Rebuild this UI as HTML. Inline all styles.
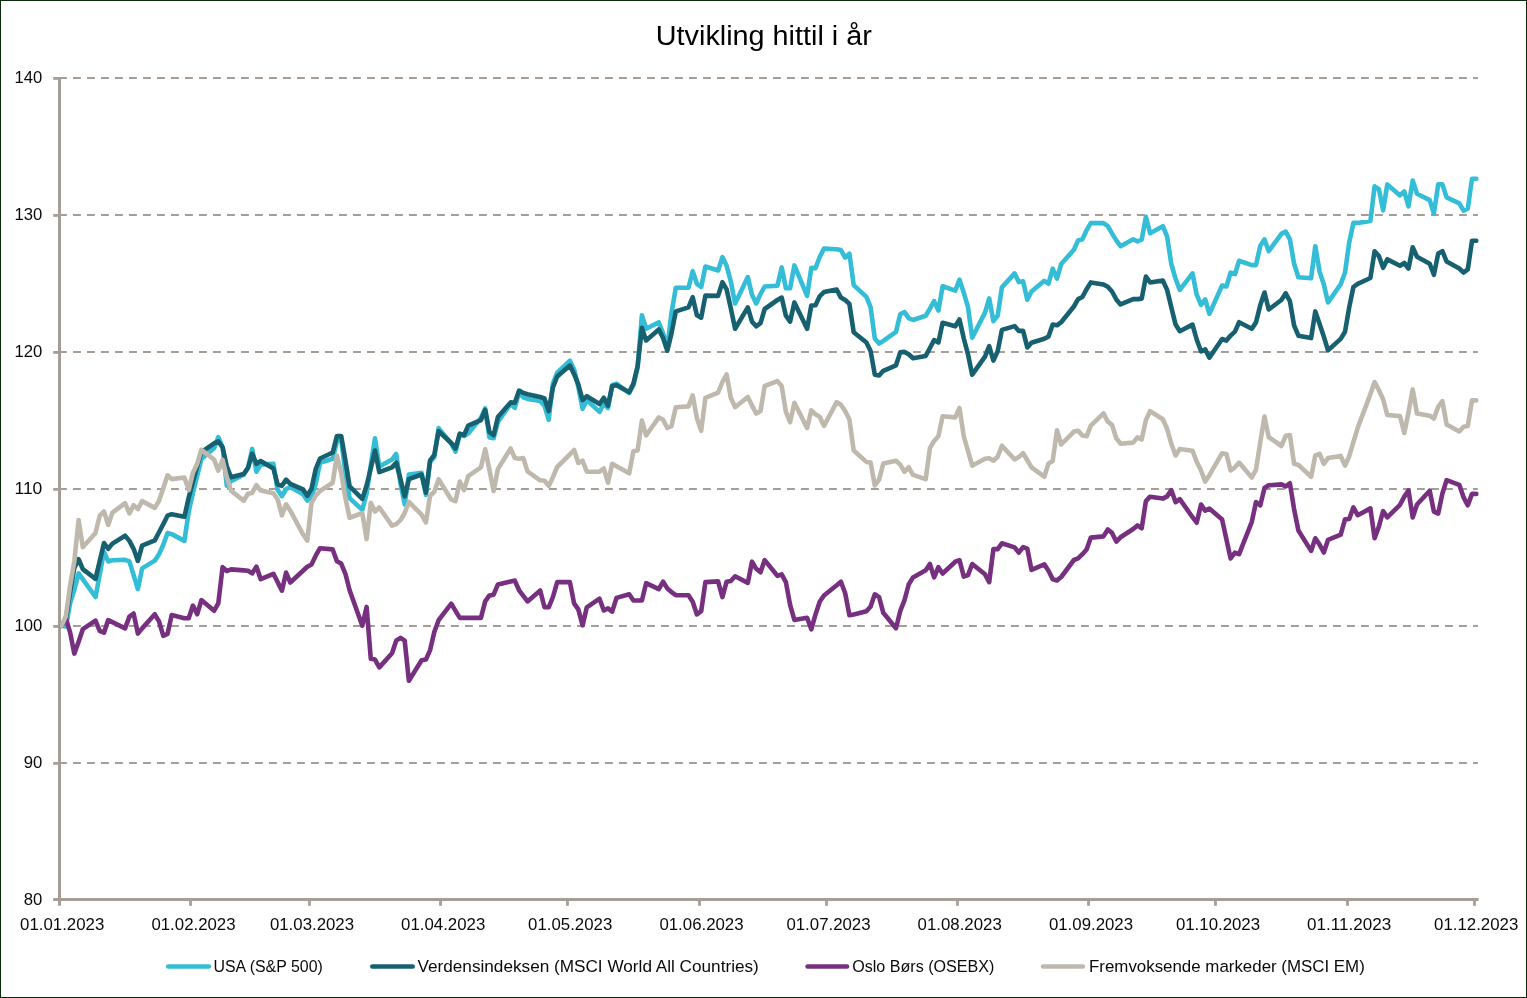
<!DOCTYPE html>
<html lang="no"><head><meta charset="utf-8"><title>Utvikling hittil i år</title>
<style>
html,body{margin:0;padding:0;background:#fff;}
body{width:1527px;height:998px;overflow:hidden;}
svg{display:block;font-family:"Liberation Sans",sans-serif;}
.lbl{font-size:16.8px;fill:#0a0a0a;}
.ttl{font-size:26.8px;fill:#000;}
.ser{fill:none;stroke-width:4.6;stroke-linejoin:round;stroke-linecap:round;}
</style></head><body>
<svg width="1527" height="998" viewBox="0 0 1527 998">
<rect x="0" y="0" width="1527" height="998" fill="#fff"/>
<rect x="0.5" y="0.5" width="1526" height="997" fill="none" stroke="#0B2A0B" stroke-width="1"/>
<text class="ttl" x="763.8" y="44.8" text-anchor="middle" textLength="216" lengthAdjust="spacingAndGlyphs">Utvikling hittil i år</text>

<g stroke="#A69E96" stroke-width="2" fill="none">
<line x1="59" y1="78.0" x2="1477.9" y2="78.0" stroke-dasharray="7.85 6.15"/>
<line x1="59" y1="215.0" x2="1477.9" y2="215.0" stroke-dasharray="7.85 6.15"/>
<line x1="59" y1="352.0" x2="1477.9" y2="352.0" stroke-dasharray="7.85 6.15"/>
<line x1="59" y1="489.0" x2="1477.9" y2="489.0" stroke-dasharray="7.85 6.15"/>
<line x1="59" y1="626.0" x2="1477.9" y2="626.0" stroke-dasharray="7.85 6.15"/>
<line x1="59" y1="763.0" x2="1477.9" y2="763.0" stroke-dasharray="7.85 6.15"/>
</g>
<g stroke="#A69E96" stroke-width="3" fill="none">
<line x1="59.5" y1="77.0" x2="59.5" y2="905.8"/>
<line x1="53.2" y1="899.5" x2="1478.6" y2="899.5"/>
</g>
<g stroke="#A69E96" stroke-width="2.8" fill="none">
<line x1="53.2" y1="78.4" x2="59.5" y2="78.4"/>
<line x1="53.2" y1="215.4" x2="59.5" y2="215.4"/>
<line x1="53.2" y1="352.4" x2="59.5" y2="352.4"/>
<line x1="53.2" y1="489.4" x2="59.5" y2="489.4"/>
<line x1="53.2" y1="626.4" x2="59.5" y2="626.4"/>
<line x1="53.2" y1="763.4" x2="59.5" y2="763.4"/>
<line x1="190.5" y1="899.5" x2="190.5" y2="905.8"/>
<line x1="309.5" y1="899.5" x2="309.5" y2="905.8"/>
<line x1="440.5" y1="899.5" x2="440.5" y2="905.8"/>
<line x1="567.5" y1="899.5" x2="567.5" y2="905.8"/>
<line x1="699.5" y1="899.5" x2="699.5" y2="905.8"/>
<line x1="826.5" y1="899.5" x2="826.5" y2="905.8"/>
<line x1="957.5" y1="899.5" x2="957.5" y2="905.8"/>
<line x1="1088.5" y1="899.5" x2="1088.5" y2="905.8"/>
<line x1="1215.5" y1="899.5" x2="1215.5" y2="905.8"/>
<line x1="1347.5" y1="899.5" x2="1347.5" y2="905.8"/>
<line x1="1474.5" y1="899.5" x2="1474.5" y2="905.8"/>
</g>
<text class="lbl" x="42.3" y="83.0" text-anchor="end" textLength="27.8" lengthAdjust="spacingAndGlyphs">140</text>
<text class="lbl" x="42.3" y="220.0" text-anchor="end" textLength="27.8" lengthAdjust="spacingAndGlyphs">130</text>
<text class="lbl" x="42.3" y="357.0" text-anchor="end" textLength="27.8" lengthAdjust="spacingAndGlyphs">120</text>
<text class="lbl" x="42.3" y="494.0" text-anchor="end" textLength="27.8" lengthAdjust="spacingAndGlyphs">110</text>
<text class="lbl" x="42.3" y="631.0" text-anchor="end" textLength="27.8" lengthAdjust="spacingAndGlyphs">100</text>
<text class="lbl" x="42.3" y="768.0" text-anchor="end" textLength="18.6" lengthAdjust="spacingAndGlyphs">90</text>
<text class="lbl" x="42.3" y="904.6" text-anchor="end" textLength="18.6" lengthAdjust="spacingAndGlyphs">80</text>
<text class="lbl" x="62.2" y="929.8" text-anchor="middle" textLength="84.2" lengthAdjust="spacingAndGlyphs">01.01.2023</text>
<text class="lbl" x="193.5" y="929.8" text-anchor="middle" textLength="84.2" lengthAdjust="spacingAndGlyphs">01.02.2023</text>
<text class="lbl" x="312.0" y="929.8" text-anchor="middle" textLength="84.2" lengthAdjust="spacingAndGlyphs">01.03.2023</text>
<text class="lbl" x="443.2" y="929.8" text-anchor="middle" textLength="84.2" lengthAdjust="spacingAndGlyphs">01.04.2023</text>
<text class="lbl" x="570.2" y="929.8" text-anchor="middle" textLength="84.2" lengthAdjust="spacingAndGlyphs">01.05.2023</text>
<text class="lbl" x="701.5" y="929.8" text-anchor="middle" textLength="84.2" lengthAdjust="spacingAndGlyphs">01.06.2023</text>
<text class="lbl" x="828.5" y="929.8" text-anchor="middle" textLength="84.2" lengthAdjust="spacingAndGlyphs">01.07.2023</text>
<text class="lbl" x="959.7" y="929.8" text-anchor="middle" textLength="84.2" lengthAdjust="spacingAndGlyphs">01.08.2023</text>
<text class="lbl" x="1091.0" y="929.8" text-anchor="middle" textLength="84.2" lengthAdjust="spacingAndGlyphs">01.09.2023</text>
<text class="lbl" x="1218.0" y="929.8" text-anchor="middle" textLength="84.2" lengthAdjust="spacingAndGlyphs">01.10.2023</text>
<text class="lbl" x="1349.2" y="929.8" text-anchor="middle" textLength="84.2" lengthAdjust="spacingAndGlyphs">01.11.2023</text>
<text class="lbl" x="1476.2" y="929.8" text-anchor="middle" textLength="84.2" lengthAdjust="spacingAndGlyphs">01.12.2023</text>
<polyline class="ser" stroke="#33BDD6" points="61.6,625.8 65.9,626.5 70.1,603.3 74.3,589.9 78.6,573.4 95.5,597.0 104.0,551.9 108.2,561.4 112.4,560.3 125.1,559.8 129.4,561.4 137.9,589.1 142.1,568.4 154.8,560.6 159.0,554.3 163.3,544.8 167.5,533.0 171.7,534.1 184.4,540.9 188.7,511.8 192.9,492.9 197.2,475.6 201.4,459.1 214.1,448.1 218.3,437.1 222.6,447.3 226.8,485.8 231.0,481.1 243.7,474.8 248.0,467.8 252.2,448.9 256.4,471.7 260.7,464.6 273.4,463.8 277.6,489.8 281.9,496.1 286.1,489.0 290.3,487.1 303.0,494.2 307.3,500.5 311.5,497.3 315.7,483.9 320.0,462.7 332.7,458.8 336.9,441.5 341.2,439.1 345.4,472.9 349.6,498.1 362.3,509.9 366.6,493.4 370.8,465.1 375.0,438.3 379.3,466.6 392.0,459.6 396.2,454.0 400.5,483.9 404.7,504.4 408.9,474.5 421.6,472.9 425.9,494.9 430.1,461.9 434.3,457.2 438.6,428.1 451.3,443.8 455.5,451.7 459.8,434.4 464.0,436.0 468.2,433.6 480.9,417.9 485.2,408.4 489.4,437.5 493.6,438.3 497.9,421.8 510.6,403.9 514.8,407.9 519.1,392.1 523.3,397.3 527.5,398.9 540.2,400.9 544.5,405.6 548.7,419.8 552.9,383.6 557.2,372.6 569.9,360.8 574.1,369.4 578.3,386.7 582.6,408.8 586.8,400.1 599.5,411.9 603.8,404.0 608.0,408.0 612.2,385.2 616.5,383.6 629.2,393.0 633.4,385.2 637.6,367.9 641.9,315.3 646.1,328.7 658.8,322.4 663.1,333.4 667.3,347.5 671.5,312.9 675.8,287.8 688.5,287.8 692.7,271.2 696.9,283.8 701.2,287.0 705.4,266.5 718.1,270.5 722.4,257.1 726.6,265.7 730.8,281.5 735.1,303.5 747.8,277.1 752.0,294.8 756.2,303.5 760.5,294.0 764.7,286.5 777.4,285.8 781.7,267.4 785.9,288.2 790.1,288.2 794.4,265.4 807.1,295.8 811.3,267.8 815.5,268.1 819.8,256.7 824.0,248.6 836.7,249.2 840.9,250.1 845.2,257.5 849.4,253.6 853.7,285.1 866.4,296.9 870.6,307.1 874.8,338.5 879.1,343.6 883.3,340.9 896.0,331.9 900.2,314.2 904.5,312.1 908.7,318.1 913.0,320.0 925.7,315.7 929.9,308.7 934.1,301.1 938.4,310.5 942.6,286.3 955.3,290.6 959.5,279.6 963.8,292.9 968.0,307.1 972.2,337.8 985.0,312.6 989.2,298.4 993.4,321.2 997.7,315.7 1001.9,287.4 1014.6,273.4 1018.8,282.1 1023.1,281.3 1027.3,299.7 1031.5,291.5 1044.3,280.8 1048.5,283.7 1052.7,268.7 1057.0,278.6 1061.2,264.0 1073.9,249.8 1078.1,240.4 1082.4,239.3 1086.6,230.2 1090.8,223.1 1103.5,223.1 1107.8,226.2 1112.0,233.3 1116.3,240.4 1120.5,246.2 1133.2,239.3 1137.4,241.5 1141.7,239.6 1145.9,216.8 1150.1,233.3 1162.8,226.2 1167.1,236.5 1171.3,264.0 1175.6,278.9 1179.8,289.9 1192.5,273.4 1196.7,294.7 1201.0,304.9 1205.2,299.4 1209.4,313.9 1222.1,285.5 1226.4,286.5 1230.6,272.6 1234.9,274.2 1239.1,260.8 1251.8,265.1 1256.0,265.1 1260.3,245.7 1264.5,239.4 1268.7,251.2 1281.4,233.9 1285.7,231.6 1289.9,239.4 1294.1,263.8 1298.4,277.2 1311.1,278.3 1315.3,246.2 1319.6,271.7 1323.8,284.3 1328.0,302.4 1340.7,284.3 1345.0,272.5 1349.2,242.6 1353.4,222.9 1357.7,222.9 1370.4,221.0 1374.6,186.4 1378.9,189.1 1383.1,210.3 1387.3,184.4 1400.0,195.4 1404.3,191.5 1408.5,206.4 1412.7,180.5 1417.0,193.8 1429.7,200.1 1433.9,213.5 1438.2,184.4 1442.4,184.4 1446.6,197.4 1459.3,203.3 1463.6,210.7 1467.8,208.5 1472.0,178.7 1476.3,178.7"/>
<polyline class="ser" stroke="#16606F" points="61.6,625.8 65.9,619.5 70.1,591.9 74.3,568.0 78.6,559.2 82.8,569.1 95.5,578.9 104.0,543.0 108.2,548.8 112.4,543.6 125.1,535.7 129.4,540.9 133.6,548.8 137.9,560.9 142.1,545.6 154.8,540.4 159.0,532.3 163.3,524.1 167.5,515.7 171.7,514.2 184.4,516.8 188.7,497.6 192.9,481.9 197.2,466.2 201.4,452.2 214.1,443.4 218.3,441.3 222.6,447.3 226.8,466.2 231.0,477.2 243.7,474.0 248.0,467.8 252.2,453.6 256.4,463.8 260.7,461.0 273.4,468.5 277.6,484.3 281.9,485.8 286.1,479.6 290.3,483.9 303.0,489.4 307.3,495.7 311.5,488.7 315.7,469.0 320.0,458.5 332.7,452.5 336.9,436.0 341.2,436.0 345.4,460.3 349.6,486.3 362.3,498.9 366.6,485.5 370.8,468.2 375.0,450.6 379.3,472.1 392.0,467.4 396.2,462.7 400.5,479.2 404.7,496.5 408.9,479.2 421.6,474.5 425.9,492.6 430.1,460.3 434.3,454.8 438.6,431.2 451.3,443.0 455.5,448.5 459.8,433.6 464.0,435.2 468.2,425.7 480.9,420.2 485.2,410.0 489.4,432.0 493.6,435.2 497.9,417.1 510.6,402.4 514.8,402.7 519.1,390.6 523.3,392.9 527.5,394.2 540.2,397.0 544.5,398.5 548.7,411.1 552.9,387.5 557.2,376.5 569.9,365.5 574.1,374.2 578.3,384.4 582.6,400.1 586.8,396.2 599.5,404.0 603.8,397.8 608.0,405.6 612.2,386.0 616.5,385.2 629.2,392.2 633.4,383.6 637.6,366.3 641.9,327.9 646.1,340.5 658.8,329.4 663.1,338.1 667.3,350.7 671.5,333.4 675.8,311.4 688.5,307.4 692.7,297.2 696.9,315.3 701.2,317.6 705.4,295.6 718.1,295.9 722.4,282.2 726.6,289.3 730.8,308.2 735.1,328.7 747.8,307.4 752.0,321.6 756.2,326.3 760.5,323.2 764.7,309.0 777.4,300.0 781.7,297.6 785.9,315.7 790.1,321.6 794.4,302.4 807.1,328.8 811.3,305.5 815.5,305.2 819.8,296.1 824.0,292.1 836.7,289.5 840.9,297.6 845.2,300.0 849.4,303.9 853.7,332.3 866.4,342.5 870.6,351.1 874.8,374.7 879.1,375.5 883.3,370.8 896.0,365.3 900.2,352.4 904.5,351.9 908.7,354.3 913.0,358.2 925.7,355.9 929.9,348.0 934.1,340.1 938.4,342.5 942.6,322.8 955.3,326.3 959.5,319.4 963.8,338.5 968.0,354.3 972.2,374.7 985.0,356.6 989.2,346.1 993.4,360.6 997.7,351.1 1001.9,329.9 1014.6,326.1 1018.8,330.9 1023.1,330.9 1027.3,347.4 1031.5,342.7 1044.3,338.7 1048.5,336.4 1052.7,324.6 1057.0,325.3 1061.2,322.2 1073.9,306.5 1078.1,299.1 1082.4,297.0 1086.6,289.2 1090.8,282.4 1103.5,284.4 1107.8,286.8 1112.0,291.5 1116.3,299.4 1120.5,304.4 1133.2,299.1 1137.4,299.1 1141.7,298.6 1145.9,276.6 1150.1,282.4 1162.8,280.5 1167.1,289.9 1171.3,307.3 1175.6,324.6 1179.8,331.2 1192.5,324.6 1196.7,339.5 1201.0,351.3 1205.2,349.4 1209.4,357.6 1222.1,339.0 1226.4,340.6 1230.6,335.6 1234.9,331.6 1239.1,322.2 1251.8,328.7 1256.0,322.4 1260.3,305.1 1264.5,292.5 1268.7,309.5 1281.4,300.0 1285.7,293.3 1289.9,301.1 1294.1,325.5 1298.4,335.7 1311.1,338.1 1315.3,311.4 1319.6,323.9 1323.8,336.5 1328.0,350.4 1340.7,338.9 1345.0,331.8 1349.2,307.4 1353.4,287.0 1357.7,283.8 1370.4,278.0 1374.6,251.2 1378.9,256.0 1383.1,267.8 1387.3,259.4 1400.0,265.7 1404.3,263.0 1408.5,268.5 1412.7,247.3 1417.0,256.7 1429.7,263.8 1433.9,274.8 1438.2,253.6 1442.4,251.2 1446.6,261.5 1459.3,268.5 1463.6,272.5 1467.8,269.3 1472.0,240.8 1476.3,240.8"/>
<polyline class="ser" stroke="#77307F" points="61.6,625.8 65.9,618.4 70.1,632.4 74.3,653.6 78.6,641.8 82.8,629.2 95.5,620.6 99.7,630.8 104.0,632.7 108.2,620.1 112.4,622.1 125.1,628.4 129.4,616.6 133.6,613.5 137.9,633.6 142.1,628.4 154.8,614.3 159.0,621.4 163.3,635.8 167.5,633.9 171.7,615.1 184.4,618.2 188.7,618.2 192.9,605.6 197.2,614.3 201.4,600.1 214.1,610.7 218.3,603.3 222.6,567.1 226.8,571.0 231.0,569.4 243.7,570.4 248.0,570.7 252.2,573.4 256.4,566.6 260.7,579.2 273.4,573.8 277.6,582.0 281.9,590.7 286.1,572.6 290.3,582.5 303.0,570.7 307.3,566.7 311.5,564.4 315.7,555.7 320.0,548.2 332.7,549.4 336.9,561.2 341.2,563.6 345.4,573.8 349.6,590.3 362.3,625.7 366.6,606.9 370.8,658.8 375.0,659.6 379.3,667.4 392.0,653.3 396.2,640.7 400.5,637.8 404.7,640.7 408.9,680.8 421.6,660.3 425.9,659.6 430.1,650.1 434.3,632.0 438.6,620.2 451.3,603.7 455.5,610.8 459.8,617.9 464.0,617.9 468.2,617.9 480.9,617.9 485.2,601.4 489.4,595.4 493.6,594.7 497.9,584.4 510.6,581.5 514.8,580.6 519.1,590.3 523.3,595.8 527.5,601.4 540.2,590.5 544.5,607.3 548.7,607.3 552.9,597.1 557.2,582.1 569.9,582.1 574.1,603.4 578.3,609.4 582.6,625.4 586.8,607.3 599.5,598.7 603.8,610.5 608.0,608.4 612.2,611.6 616.5,597.9 629.2,594.3 633.4,600.5 637.6,600.5 641.9,600.5 646.1,583.2 658.8,589.2 663.1,581.7 667.3,588.4 671.5,592.1 675.8,595.2 688.5,595.2 692.7,601.8 696.9,614.4 701.2,611.2 705.4,582.1 718.1,581.4 722.4,597.1 726.6,581.7 730.8,581.0 735.1,576.3 747.8,582.9 752.0,561.7 756.2,568.8 760.5,572.2 764.7,560.1 777.4,575.8 781.7,574.3 785.9,582.1 790.1,604.9 794.4,619.9 807.1,617.8 811.3,629.3 815.5,614.4 819.8,601.5 824.0,595.5 836.7,585.3 840.9,581.7 845.2,593.2 849.4,615.2 853.7,614.4 866.4,611.2 870.6,606.5 874.8,594.3 879.1,597.1 883.3,612.8 896.0,628.2 900.2,611.2 904.5,600.2 908.7,584.5 913.0,577.4 925.7,570.3 929.9,564.0 934.1,577.4 938.4,567.2 942.6,573.5 955.3,561.7 959.5,560.1 963.8,576.6 968.0,575.1 972.2,564.0 985.0,574.3 989.2,582.1 993.4,549.1 997.7,549.1 1001.9,543.3 1014.6,547.4 1018.8,552.6 1023.1,547.1 1027.3,548.7 1031.5,569.9 1044.3,564.4 1048.5,570.7 1052.7,579.3 1057.0,580.4 1061.2,577.0 1073.9,560.0 1078.1,558.4 1082.4,554.2 1086.6,549.4 1090.8,537.6 1103.5,536.4 1107.8,529.5 1112.0,532.9 1116.3,541.6 1120.5,537.3 1133.2,529.0 1137.4,525.4 1141.7,528.2 1145.9,501.1 1150.1,496.7 1162.8,498.6 1167.1,496.4 1171.3,490.1 1175.6,502.2 1179.8,499.1 1192.5,517.2 1196.7,522.7 1201.0,504.6 1205.2,510.6 1209.4,508.5 1222.1,519.6 1226.4,539.2 1230.6,558.4 1234.9,552.6 1239.1,554.2 1251.8,521.8 1256.0,502.1 1260.3,505.3 1264.5,488.0 1268.7,485.3 1281.4,484.4 1285.7,486.4 1289.9,483.3 1294.1,509.2 1298.4,530.5 1311.1,550.9 1315.3,538.3 1319.6,544.6 1323.8,552.5 1328.0,539.9 1340.7,534.7 1345.0,519.4 1349.2,519.0 1353.4,507.3 1357.7,515.2 1370.4,508.4 1374.6,538.3 1378.9,526.5 1383.1,511.1 1387.3,517.4 1400.0,504.8 1404.3,496.6 1408.5,490.3 1412.7,517.4 1417.0,504.5 1429.7,490.7 1433.9,511.6 1438.2,513.6 1442.4,493.5 1446.6,480.1 1459.3,484.8 1463.6,497.4 1467.8,505.3 1472.0,493.9 1476.3,493.9"/>
<polyline class="ser" stroke="#BFB8AD" points="61.6,625.8 65.9,616.0 70.1,585.5 74.3,561.6 78.6,520.0 82.8,547.2 95.5,533.0 99.7,515.7 104.0,511.5 108.2,524.9 112.4,512.6 125.1,503.2 129.4,513.4 133.6,505.2 137.9,509.1 142.1,501.1 154.8,507.9 159.0,500.8 163.3,488.2 167.5,475.3 171.7,479.1 184.4,477.5 188.7,490.1 192.9,472.8 197.2,463.8 201.4,449.7 214.1,459.6 218.3,470.6 222.6,459.9 226.8,477.2 231.0,490.6 243.7,500.8 248.0,493.7 252.2,492.9 256.4,485.1 260.7,490.6 273.4,493.2 277.6,499.2 281.9,515.3 286.1,504.3 290.3,510.7 303.0,534.3 307.3,540.6 311.5,502.8 315.7,495.7 320.0,491.0 332.7,482.7 336.9,455.6 341.2,472.9 345.4,498.1 349.6,517.8 362.3,513.0 366.6,539.0 370.8,502.8 375.0,511.5 379.3,507.5 392.0,525.6 396.2,524.1 400.5,520.1 404.7,513.0 408.9,502.0 421.6,514.6 425.9,522.5 430.1,495.7 434.3,491.8 438.6,479.2 451.3,499.7 455.5,501.2 459.8,481.6 464.0,490.2 468.2,476.1 480.9,467.4 485.2,449.3 489.4,469.8 493.6,491.0 497.9,469.0 510.6,448.5 514.8,458.0 519.1,458.8 523.3,458.0 527.5,471.4 540.2,480.3 544.5,480.8 548.7,485.9 552.9,477.2 557.2,467.0 569.9,454.4 574.1,450.0 578.3,463.0 582.6,460.7 586.8,471.7 599.5,471.7 603.8,468.5 608.0,482.7 612.2,463.8 616.5,466.2 629.2,473.3 633.4,451.2 637.6,450.5 641.9,420.6 646.1,435.5 658.8,417.4 663.1,419.8 667.3,428.0 671.5,426.1 675.8,407.2 688.5,406.4 692.7,395.4 696.9,418.2 701.2,430.8 705.4,397.8 718.1,392.7 722.4,382.0 726.6,374.5 730.8,397.8 735.1,407.2 747.8,397.0 752.0,405.6 756.2,413.5 760.5,411.1 764.7,386.0 777.4,381.2 781.7,386.0 785.9,411.9 790.1,422.1 794.4,402.8 807.1,428.0 811.3,410.3 815.5,414.3 819.8,416.9 824.0,425.8 836.7,402.2 840.9,404.8 845.2,411.1 849.4,419.5 853.7,450.5 866.4,461.9 870.6,462.6 874.8,485.5 879.1,479.6 883.3,463.5 896.0,460.7 900.2,464.6 904.5,471.7 908.7,467.3 913.0,474.8 925.7,479.2 929.9,448.1 934.1,441.0 938.4,436.3 942.6,416.3 955.3,417.4 959.5,408.0 963.8,436.3 968.0,451.2 972.2,465.7 985.0,458.8 989.2,458.3 993.4,460.7 997.7,456.7 1001.9,445.7 1014.6,459.4 1018.8,457.1 1023.1,453.2 1027.3,460.2 1031.5,467.3 1044.3,476.7 1048.5,463.4 1052.7,461.0 1057.0,430.3 1061.2,444.5 1073.9,431.6 1078.1,430.7 1082.4,435.4 1086.6,436.3 1090.8,425.6 1103.5,413.4 1107.8,421.7 1112.0,424.8 1116.3,438.2 1120.5,443.7 1133.2,442.6 1137.4,437.4 1141.7,439.5 1145.9,420.1 1150.1,411.1 1162.8,419.3 1167.1,428.8 1171.3,443.7 1175.6,455.5 1179.8,448.9 1192.5,450.8 1196.7,461.8 1201.0,470.5 1205.2,481.5 1209.4,475.2 1222.1,453.2 1226.4,453.9 1230.6,470.5 1234.9,467.3 1239.1,462.6 1251.8,477.5 1256.0,469.6 1260.3,442.1 1264.5,416.6 1268.7,437.1 1281.4,446.0 1285.7,435.8 1289.9,435.0 1294.1,463.8 1298.4,464.9 1311.1,476.7 1315.3,455.5 1319.6,453.9 1323.8,463.8 1328.0,458.1 1340.7,455.9 1345.0,465.7 1349.2,456.2 1353.4,442.1 1357.7,427.9 1370.4,394.1 1374.6,382.0 1378.9,390.2 1383.1,399.3 1387.3,415.0 1400.0,416.1 1404.3,433.0 1408.5,412.2 1412.7,389.4 1417.0,413.5 1429.7,415.7 1433.9,418.5 1438.2,406.7 1442.4,401.2 1446.6,424.5 1459.3,431.4 1463.6,426.7 1467.8,426.0 1472.0,400.4 1476.3,400.4"/>
<line x1="168.20000000000002" y1="966.5" x2="208.79999999999998" y2="966.5" stroke="#33BDD6" stroke-width="4.6" stroke-linecap="round"/>
<text class="lbl" x="213.4" y="971.8" textLength="109.4" lengthAdjust="spacingAndGlyphs">USA (S&amp;P 500)</text>
<line x1="372.3" y1="966.5" x2="412.7" y2="966.5" stroke="#16606F" stroke-width="4.6" stroke-linecap="round"/>
<text class="lbl" x="417.5" y="971.8" textLength="341.3" lengthAdjust="spacingAndGlyphs">Verdensindeksen (MSCI World All Countries)</text>
<line x1="807.5999999999999" y1="966.5" x2="847.0" y2="966.5" stroke="#77307F" stroke-width="4.6" stroke-linecap="round"/>
<text class="lbl" x="852.2" y="971.8" textLength="142.2" lengthAdjust="spacingAndGlyphs">Oslo Børs (OSEBX)</text>
<line x1="1043.1" y1="966.5" x2="1082.9" y2="966.5" stroke="#BFB8AD" stroke-width="4.6" stroke-linecap="round"/>
<text class="lbl" x="1089" y="971.8" textLength="275.8" lengthAdjust="spacingAndGlyphs">Fremvoksende markeder (MSCI EM)</text>
</svg></body></html>
